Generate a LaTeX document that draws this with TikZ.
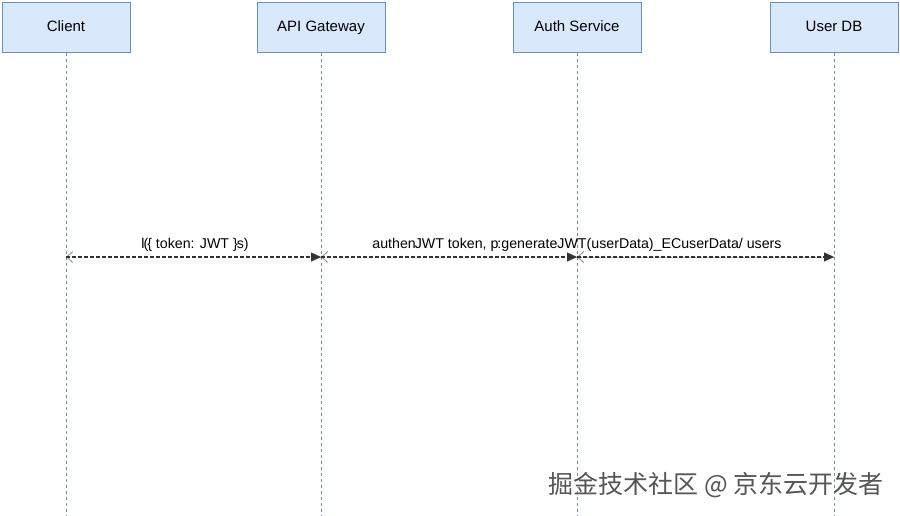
\documentclass[tikz,border=0pt]{standalone}
\usepackage{fontspec}
\setmainfont{Liberation Sans}
\newfontfamily\cjkfont{Noto Sans CJK SC}
\usepackage{tikz}
\usetikzlibrary{arrows.meta}

\definecolor{actorfill}{HTML}{DAE8FC}
\definecolor{actorline}{HTML}{6C8EBF}
\definecolor{msgline}{HTML}{333333}
\definecolor{retline}{HTML}{999999}
\definecolor{markgray}{HTML}{555555}

\begin{document}
\begin{tikzpicture}[x=1pt,y=1pt]
\tikzstyle{every node}+=[inner sep=0pt]
\tikzstyle{actor}=[draw=actorline, fill=actorfill, line width=1pt, minimum width=128pt, minimum height=50pt, text height=11pt, text depth=3pt, font=\fontsize{15}{18}\selectfont]
\tikzstyle{lifeline}=[draw=actorline, line width=0.8pt, dash pattern=on 3pt off 3pt]
\tikzstyle{call}=[draw=msgline, line width=1.3pt, dash pattern=on 3.5pt off 2.5pt, -{Triangle[length=10pt,width=9pt]}]
\tikzstyle{reply}=[draw=retline, line width=1pt, dash pattern=on 3.5pt off 2.5pt, -{Straight Barb[length=6pt,width=11pt]}]
\tikzstyle{msg}=[text height=10pt, text depth=3pt, font=\fontsize{14.2}{16}\selectfont]
\useasboundingbox (0,0) rectangle (900,-515);
\fill [white] (0,0) rectangle (900,-515);
% actors
\node [actor] (client) at (66,-27) {Client};
\node [actor] (gateway) at (321,-27) {API Gateway};
\node [actor] (auth) at (577,-27) {Auth Service};
\node [actor] (userdb) at (834,-27) {User DB};
% lifelines
\coordinate (clientend) at (66,-515);
\coordinate (gatewayend) at (321,-515);
\coordinate (authend) at (577,-515);
\coordinate (userdbend) at (834,-515);
\draw [lifeline] (client.south) -- (clientend);
\draw [lifeline] (gateway.south) -- (gatewayend);
\draw [lifeline] (auth.south) -- (authend);
\draw [lifeline] (userdb.south) -- (userdbend);
% message points
\coordinate (clientmsg) at (66,-257);
\coordinate (gatewaymsg) at (321,-257);
\coordinate (authmsg) at (577,-257);
\coordinate (userdbmsg) at (834,-257);
% replies
\draw [reply] (gatewaymsg) -- (clientmsg);
\draw [reply] (authmsg) -- (gatewaymsg);
\draw [reply] (userdbmsg) -- (authmsg);
% calls
\draw [call] (clientmsg) -- (gatewaymsg);
\draw [call] (gatewaymsg) -- (authmsg);
\draw [call] (authmsg) -- (userdbmsg);
% labels
\node [msg] (loginlabel) at (195,-245) {l\kern-1pt(\kern-1pt\{ token: JWT \}\kern-1pt s)};
\node [msg] (authlabel) at (577,-245) {authen\kern-1pt JWT token, p\kern-1pt:generateJWT(userData)\_ECuserData/ users};
% watermark
\node [font=\cjkfont\fontsize{25}{29}\selectfont, text=white] (markshadow) at (717.2,-486.2) {掘金技术社区 @ 京东云开发者};
\node [font=\cjkfont\fontsize{25}{29}\selectfont, text=markgray] (mark) at (716,-485) {掘金技术社区 @ 京东云开发者};
\end{tikzpicture}
\end{document}
